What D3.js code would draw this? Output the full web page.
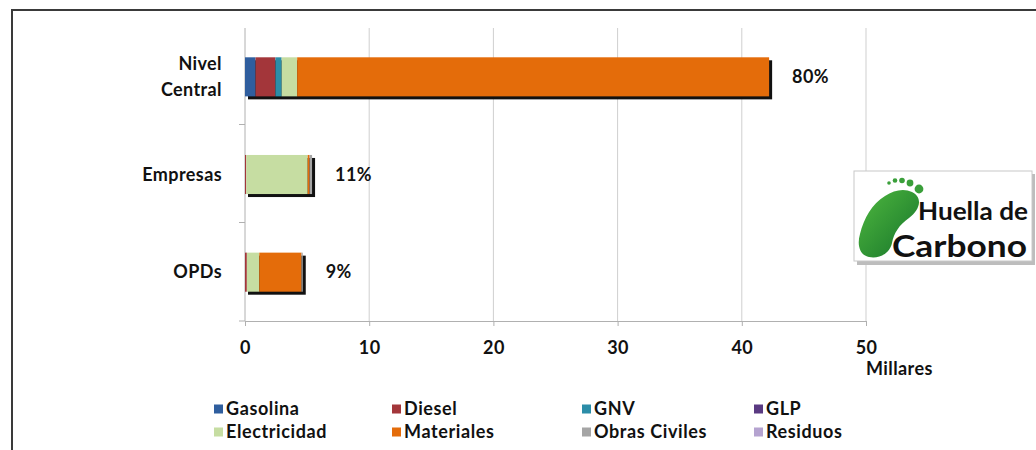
<!DOCTYPE html>
<html>
<head>
<meta charset="utf-8">
<script src="https://cdn.jsdelivr.net/npm/d3@7"></script>
<style>
  html, body { margin: 0; padding: 0; background: #fff; }
  svg { display: block; }
  text { font-family: Lato, "Open Sans", sans-serif; font-weight: 700; fill: #111; }
</style>
</head>
<body>
<svg id="chart" width="1036" height="450"></svg>
<script>
// Emisiones por área (miles de tCO2e), apiladas por fuente
const categories = ["Nivel Central", "Empresas", "OPDs"];
const categoryLines = [["Nivel", "Central"], ["Empresas"], ["OPDs"]];
const gasolina     = [0.85, 0,    0];
const diesel       = [1.6,  0.1,  0.15];
const gnv          = [0.5,  0,    0];
const glp          = [0,    0,    0];
const electricidad = [1.25, 4.95, 1.0];
const materiales   = [38.0, 0.15, 3.4];
const obrasCiviles = [0,    0.2,  0.1];
const residuos     = [0,    0,    0];
const shareLabels  = ["80%", "11%", "9%"];
const xTicks = [0, 10, 20, 30, 40, 50];
const seriesNames = ["Gasolina", "Diesel", "GNV", "GLP", "Electricidad", "Materiales", "Obras Civiles", "Residuos"];
const seriesColors = ["#2F5E9E", "#A3363A", "#2B8DA8", "#5A3A82", "#C6DDA2", "#E46C0A", "#A5A5A5", "#B5A3D0"];

const FS = 18;   // label font size
const LS = 0.4;  // label letter spacing

const seriesValues = [gasolina, diesel, gnv, glp, electricidad, materiales, obrasCiviles, residuos];
const rows = categories.map((c, i) => {
  const r = { category: c };
  seriesNames.forEach((s, k) => { r[s] = seriesValues[k][i]; });
  return r;
});
const stacked = d3.stack().keys(seriesNames)(rows);

const svg = d3.select("#chart");

// outer frame
svg.append("path")
  .attr("d", "M12,450 V10 H1036")
  .attr("fill", "none").attr("stroke", "#3a3a3a").attr("stroke-width", 2);

const x = d3.scaleLinear().domain([0, 50]).range([245, 866]);
const y = d3.scaleBand().domain(categories).range([28, 321]).paddingInner(0.6).paddingOuter(0.3);
const bandEdges = [28, 124.5, 222.5, 321];

// vertical gridlines
svg.append("g").selectAll("line").data(xTicks.slice(1)).join("line")
  .attr("x1", d => x(d)).attr("x2", d => x(d))
  .attr("y1", 28).attr("y2", 321)
  .attr("stroke", "#cfcfcf").attr("stroke-width", 1);

// category axis
svg.append("line").attr("x1", 245).attr("x2", 245).attr("y1", 28).attr("y2", 321)
  .attr("stroke", "#b0b0b0");
svg.append("g").selectAll("line").data(bandEdges.slice(1)).join("line")
  .attr("x1", 239).attr("x2", 245).attr("y1", d => d).attr("y2", d => d)
  .attr("stroke", "#b0b0b0");

// value axis
const xAxis = svg.append("g").attr("transform", "translate(0,321)")
  .call(d3.axisBottom(x).tickValues(xTicks).tickSize(5).tickPadding(15));
xAxis.select(".domain").attr("stroke", "#b0b0b0");
xAxis.selectAll(".tick line").attr("stroke", "#b0b0b0");
xAxis.selectAll(".tick text").attr("font-family", "Lato, sans-serif").attr("font-weight", 700)
  .attr("font-size", FS).attr("letter-spacing", LS).attr("fill", "#111");
svg.append("text").attr("x", 866).attr("y", 375).attr("font-size", FS).attr("letter-spacing", LS).text("Millares");

// bar shadows
const totals = rows.map(r => d3.sum(seriesNames, s => r[s]));
svg.append("g").selectAll("rect").data(categories).join("rect")
  .attr("x", x(0) + 3).attr("y", c => y(c) + 3)
  .attr("width", (c, i) => x(totals[i]) - x(0))
  .attr("height", y.bandwidth())
  .attr("fill", "#111");

// stacked bars
svg.append("g").selectAll("g").data(stacked).join("g")
  .attr("fill", (d, i) => seriesColors[i])
  .selectAll("rect").data(d => d).join("rect")
  .attr("x", d => x(d[0])).attr("y", d => y(d.data.category))
  .attr("width", d => x(d[1]) - x(d[0]))
  .attr("height", y.bandwidth());

// share labels
svg.append("g").selectAll("text").data(categories).join("text")
  .attr("x", (c, i) => x(totals[i]) + 23)
  .attr("y", c => y(c) + y.bandwidth() / 2)
  .attr("dy", "0.35em").attr("font-size", FS).attr("letter-spacing", LS)
  .text((c, i) => shareLabels[i]);

// category labels
svg.append("g").selectAll("text").data(categories).join("text")
  .attr("text-anchor", "end").attr("font-size", FS).attr("letter-spacing", LS)
  .attr("x", 222)
  .attr("y", c => y(c) + y.bandwidth() / 2)
  .each(function(c, i) {
    const lines = categoryLines[i];
    const t = d3.select(this);
    lines.forEach((l, k) => {
      t.append("tspan").attr("x", 222)
        .attr("dy", k === 0 ? `${0.35 - (lines.length - 1) * 0.72}em` : "1.44em")
        .text(l);
    });
  });

// legend
const legendCols = [214, 392, 582, 754];
const legend = svg.append("g").selectAll("g").data(seriesNames).join("g")
  .attr("transform", (d, i) => `translate(${legendCols[i % 4]},${i < 4 ? 409 : 432})`);
legend.append("rect").attr("x", 0).attr("y", -4.5).attr("width", 9).attr("height", 9)
  .attr("fill", (d, i) => seriesColors[i]);
legend.append("text").attr("x", 12).attr("dy", "0.35em").attr("font-size", FS).attr("letter-spacing", 0.6).text(d => d);

// Huella de Carbono badge
const defs = svg.append("defs");
const gGreen = defs.append("linearGradient").attr("id", "footGreen").attr("x1", 0).attr("y1", 0).attr("x2", 1).attr("y2", 1);
gGreen.append("stop").attr("offset", "0%").attr("stop-color", "#4fb83f");
gGreen.append("stop").attr("offset", "100%").attr("stop-color", "#16742a");
const gText = defs.append("linearGradient").attr("id", "badgeText").attr("x1", 0).attr("y1", 0).attr("x2", 0).attr("y2", 1);
gText.append("stop").attr("offset", "0%").attr("stop-color", "#5a5a5a");
gText.append("stop").attr("offset", "100%").attr("stop-color", "#222");

const badge = svg.append("g");
badge.append("rect").attr("x", 857).attr("y", 174).attr("width", 178).attr("height", 91).attr("fill", "#bdbdbd");
badge.append("rect").attr("x", 854).attr("y", 171).attr("width", 178).attr("height", 90)
  .attr("fill", "#fff").attr("stroke", "#c8c8c8");
badge.append("path")
  .attr("d", "M912,192 C924,198 919,211 909,218 C899,225 894,233 892,243 C890,253 880,259 869,257 C859,255 857,244 860,234 C864,218 872,204 885,196 C894,190 904,188 912,192 Z")
  .attr("fill", "url(#footGreen)");
const toes = [[889, 183, 1.8], [895, 180.5, 2.3], [902, 180.5, 2.8], [910, 183, 3.4], [919, 189, 4.4]];
badge.selectAll("circle").data(toes).join("circle")
  .attr("cx", d => d[0]).attr("cy", d => d[1]).attr("r", d => d[2]).attr("fill", "#3a9f3a");
badge.append("text").attr("x", 918).attr("y", 220).attr("font-family", "'Open Sans', sans-serif")
  .attr("font-weight", 400).attr("font-size", 24).attr("textLength", 110).attr("lengthAdjust", "spacingAndGlyphs")
  .attr("fill", "url(#badgeText)").text("Huella de");
badge.append("text").attr("x", 892).attr("y", 257).attr("font-family", "'Open Sans', sans-serif")
  .attr("font-weight", 700).attr("font-size", 30).attr("textLength", 135).attr("lengthAdjust", "spacingAndGlyphs")
  .attr("fill", "url(#badgeText)").text("Carbono");
</script>
</body>
</html>
